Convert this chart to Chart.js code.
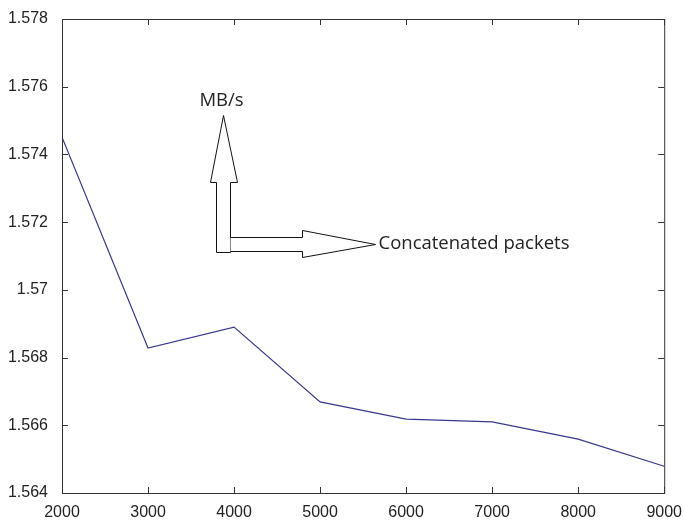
<!DOCTYPE html>
<html>
<head>
<meta charset="utf-8">
<script src="https://cdn.jsdelivr.net/npm/chart.js@4/dist/chart.umd.min.js"></script>
<style>
  html, body { margin: 0; padding: 0; background: #fff; }
  #wrap { width: 684px; height: 520px; }
</style>
</head>
<body>
<div id="wrap"><canvas id="rateChart" width="684" height="520"></canvas></div>
<script>
// packet counts and measured throughput
const packets = [2000, 3000, 4000, 5000, 6000, 7000, 8000, 9000];
const rate = [1.57451, 1.56828, 1.5689, 1.56669, 1.56618, 1.5661, 1.56559, 1.56479];
const xTicks = [2000, 3000, 4000, 5000, 6000, 7000, 8000, 9000];
const yTicks = [1.564, 1.566, 1.568, 1.57, 1.572, 1.574, 1.576, 1.578];

// MATLAB-style frame with inward ticks on all four sides
const frame = {
  id: 'frame',
  afterDraw(chart) {
    const { ctx, chartArea: a, scales } = chart;
    ctx.save();
    ctx.strokeStyle = '#333';
    ctx.lineWidth = 1;
    ctx.strokeRect(a.left + 0.5, a.top + 0.5, a.right - a.left, a.bottom - a.top);
    ctx.beginPath();
    xTicks.forEach(v => {
      const px = Math.round(scales.x.getPixelForValue(v)) + 0.5;
      ctx.moveTo(px, a.bottom); ctx.lineTo(px, a.bottom - 6);
      ctx.moveTo(px, a.top); ctx.lineTo(px, a.top + 6);
    });
    yTicks.forEach(v => {
      const py = Math.round(scales.y.getPixelForValue(v)) + 0.5;
      ctx.moveTo(a.left, py); ctx.lineTo(a.left + 6, py);
      ctx.moveTo(a.right, py); ctx.lineTo(a.right - 6, py);
    });
    ctx.stroke();
    ctx.restore();
  }
};

// the hand-drawn axis arrows with their captions
const arrows = {
  id: 'arrows',
  afterDraw(chart) {
    const { ctx, scales } = chart;
    const cx = Math.round(scales.x.getPixelForValue(3790)) + 0.5;
    const cy = Math.round(scales.y.getPixelForValue(1.57112)) + 0.5;
    ctx.save();
    ctx.strokeStyle = '#111';
    ctx.fillStyle = '#fff';
    ctx.lineWidth = 1;
    ctx.lineJoin = 'miter';

    ctx.beginPath();
    ctx.moveTo(cx, cy);
    ctx.lineTo(cx, cy - 70);
    ctx.lineTo(cx - 6, cy - 70);
    ctx.lineTo(cx + 7, cy - 137);
    ctx.lineTo(cx + 21, cy - 70);
    ctx.lineTo(cx + 14, cy - 70);
    ctx.lineTo(cx + 14, cy);
    ctx.closePath();
    ctx.fill(); ctx.stroke();

    ctx.beginPath();
    ctx.moveTo(cx + 14, cy - 15);
    ctx.lineTo(cx + 86, cy - 15);
    ctx.lineTo(cx + 86, cy - 22);
    ctx.lineTo(cx + 159, cy - 8);
    ctx.lineTo(cx + 86, cy + 5);
    ctx.lineTo(cx + 86, cy - 1);
    ctx.lineTo(cx + 14, cy - 1);
    ctx.fill(); ctx.stroke();

    ctx.fillStyle = '#222';
    ctx.font = '18.5px "Open Sans"';
    ctx.textBaseline = 'middle';
    ctx.textAlign = 'center';
    ctx.fillText('MB/s', cx + 5, cy - 152);
    ctx.textAlign = 'left';
    ctx.fillText('Concatenated packets', cx + 162, cy - 9);
    ctx.restore();
  }
};

new Chart(document.getElementById('rateChart'), {
  type: 'line',
  data: {
    datasets: [{
      data: packets.map((p, i) => ({ x: p, y: rate[i] })),
      borderColor: '#38388c',
      borderWidth: 1.2,
      pointRadius: 0,
      tension: 0,
      fill: false
    }]
  },
  options: {
    responsive: false,
    animation: false,
    layout: { padding: { top: 19, right: 17, left: 0, bottom: 0 } },
    plugins: { legend: { display: false }, tooltip: { enabled: false } },
    scales: {
      x: {
        type: 'linear',
        min: 2000, max: 9000,
        afterBuildTicks(s) { s.ticks = xTicks.map(v => ({ value: v })); },
        afterFit(s) { s.height = 27; },
        grid: { display: false },
        border: { display: false },
        ticks: {
          color: '#222', padding: 2, maxRotation: 0,
          font: { family: '"Liberation Sans"', size: 16 },
          callback: v => String(v)
        }
      },
      y: {
        min: 1.564, max: 1.578,
        afterBuildTicks(s) { s.ticks = yTicks.map(v => ({ value: v })); },
        afterFit(s) { s.width = 62; },
        grid: { display: false },
        border: { display: false },
        ticks: {
          color: '#222', padding: 6,
          font: { family: '"Liberation Sans"', size: 16 },
          callback: v => String(+v.toFixed(3))
        }
      }
    }
  },
  plugins: [frame, arrows]
});
</script>
</body>
</html>
